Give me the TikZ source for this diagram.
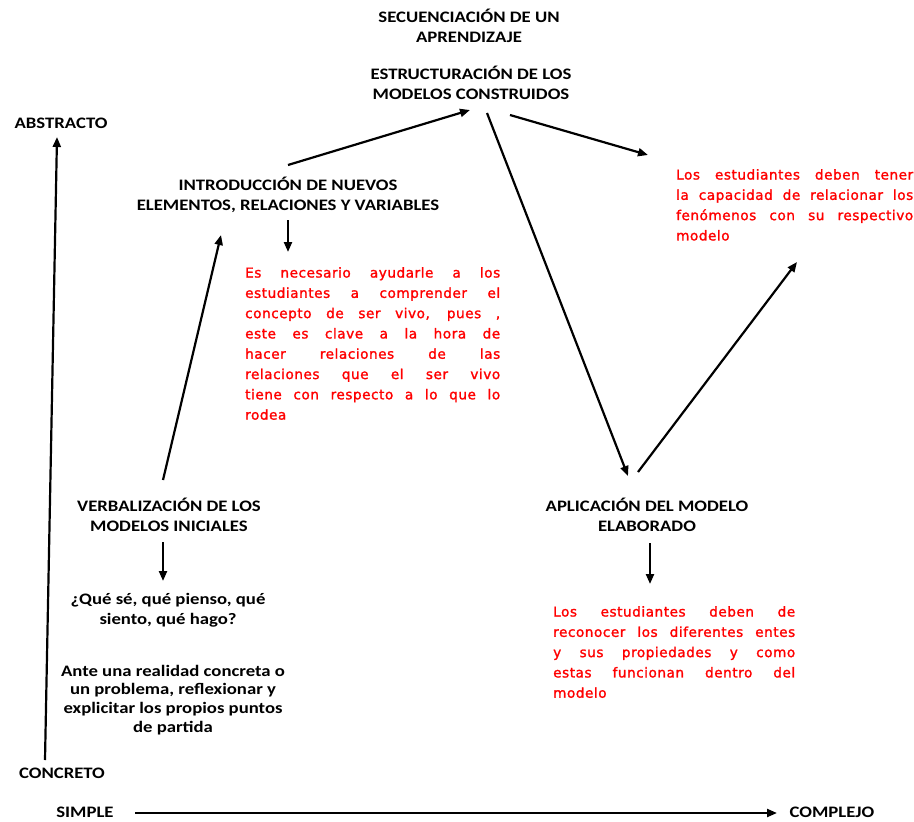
\documentclass[tikz,border=0pt]{standalone}
\usepackage{fontspec}
\setmainfont{Carlito}[FakeStretch=1.17]
\newfontfamily\redfont{DejaVu Sans}[LetterSpace=4,FakeBold=1.5]
\usetikzlibrary{arrows.meta}
\definecolor{redtxt}{RGB}{255,0,0}
\newcommand{\jl}[1]{\leavevmode\hbox to \hsize{\spaceskip=0pt\xspaceskip=0pt\relax #1}\\}
\tikzset{
  blk/.style={font=\bfseries\fontsize{16}{20}\selectfont, align=center, inner sep=0pt},
  redbox/.style={font=\redfont\fontsize{13.6}{20.3}\selectfont, text=redtxt, align=left, inner sep=0pt, anchor=north west},
  arr/.style={line width=2.2pt, -{Triangle[length=10pt,width=8pt]}},
}
\begin{document}
\begin{tikzpicture}[x=1pt,y=-1pt]
\useasboundingbox (0,0) rectangle (914,822);
% texts
\node[blk] (sec) at (469,26) {SECUENCIACIÓN DE UN\\APRENDIZAJE};
\node[blk] (est) at (471,83) {ESTRUCTURACIÓN DE LOS\\MODELOS CONSTRUIDOS};
\node[blk] (abs) at (61,123) {ABSTRACTO};
\node[blk] (intro) at (288,195) {INTRODUCCIÓN DE NUEVOS\\ELEMENTOS, RELACIONES Y VARIABLES};
\node[blk] (verb) at (169,515) {VERBALIZACIÓN DE LOS\\MODELOS INICIALES};
\node[blk] (que) at (168,610) {¿Qué sé, qué pienso, qué\\siento, qué hago?};
\node[blk, font=\bfseries\fontsize{16}{18.8}\selectfont] (ante) at (173,700) {Ante una realidad concreta o\\un problema, reflexionar y\\explicitar los propios puntos\\de partida};
\node[blk] (apl) at (647,515) {APLICACIÓN DEL MODELO\\ELABORADO};
\node[blk] (conc) at (62,773) {CONCRETO};
\node[blk] (simp) at (85,812) {SIMPLE};
\node[blk] (comp) at (832,812) {COMPLEJO};
\node[redbox, text width=255pt] (r1) at (245,267) {%
\jl{Es necesario ayudarle a los}
\jl{estudiantes a comprender el}
\jl{concepto de ser vivo, pues ,}
\jl{este es clave a la hora de}
\jl{hacer relaciones de las}
\jl{relaciones que el ser vivo}
\jl{tiene con respecto a lo que lo}
rodea};
\node[redbox, text width=237pt] (r2) at (676,169) {%
\jl{Los estudiantes deben tener}
\jl{la capacidad de relacionar los}
\jl{fenómenos con su respectivo}
modelo};
\node[redbox, text width=242pt] (r3) at (553,606) {%
\jl{Los estudiantes deben de}
\jl{reconocer los diferentes entes}
\jl{y sus propiedades y como}
\jl{estas funcionan dentro del}
modelo};
% connector end points
\coordinate (ay0) at (45,760);
\coordinate (ay1) at (57,137);
\coordinate (ax0) at (135,813);
\coordinate (ax1) at (777,813);
\coordinate (v0) at (163,480);
\coordinate (v1) at (221,235);
\coordinate (i0) at (288,165);
\coordinate (i1) at (470,110);
\coordinate (e0) at (487,113);
\coordinate (e1) at (628,476);
\coordinate (f0) at (510,115);
\coordinate (f1) at (648,155);
\coordinate (g0) at (638,472);
\coordinate (g1) at (797,262);
\coordinate (d10) at (288,220);
\coordinate (d11) at (288,252);
\coordinate (d20) at (163,542);
\coordinate (d21) at (163,581);
\coordinate (d30) at (650,543);
\coordinate (d31) at (650,584);
% connectors
\draw[arr] (ay0) -- (ay1);
\draw[arr] (ax0) -- (ax1);
\draw[arr] (v0) -- (v1);
\draw[arr] (i0) -- (i1);
\draw[arr] (e0) -- (e1);
\draw[arr] (f0) -- (f1);
\draw[arr] (g0) -- (g1);
\draw[arr] (d10) -- (d11);
\draw[arr] (d20) -- (d21);
\draw[arr] (d30) -- (d31);
\end{tikzpicture}
\end{document}
